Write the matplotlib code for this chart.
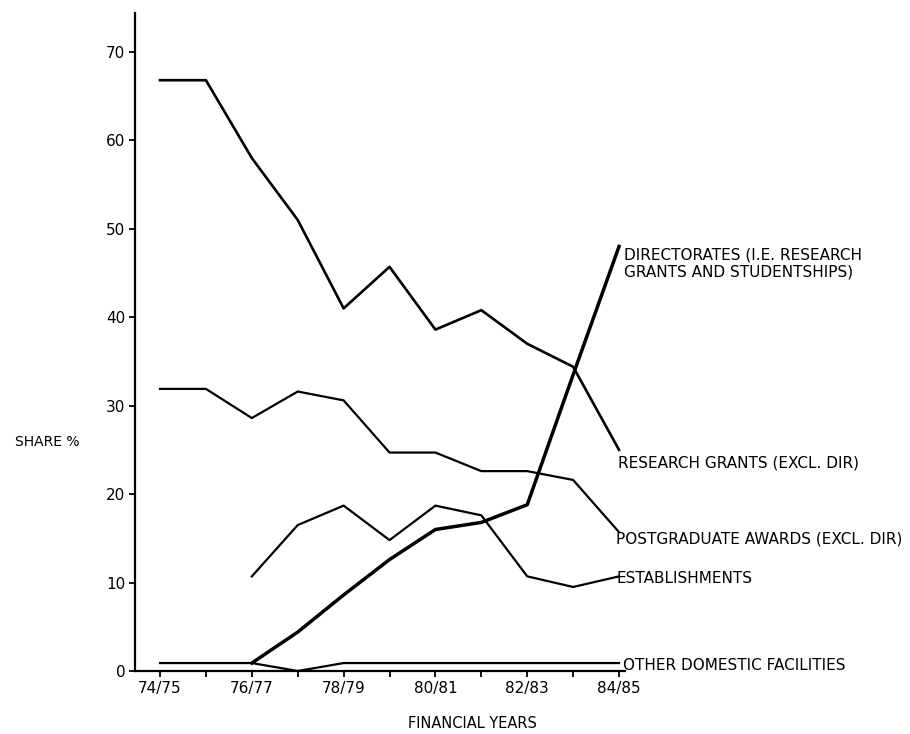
import numpy as np
import matplotlib
matplotlib.use("Agg")
import matplotlib.pyplot as plt

years = ["74/75", "75/76", "76/77", "77/78", "78/79", "79/80",
         "80/81", "81/82", "82/83", "83/84", "84/85"]
research_grants = [66.8, 66.8, 58, 51, 41, 45.7, 38.6, 40.8, 37, 34.4, 25]
postgraduate = [31.9, 31.9, 28.6, 31.6, 30.6, 24.7, 24.7, 22.6, 22.6, 21.6, 15.7]
establishments = [np.nan, np.nan, 10.7, 16.5, 18.7, 14.8, 18.7, 17.6, 10.7, 9.5, 10.7]
directorates = [np.nan, np.nan, 0.9, 4.4, 8.6, 12.6, 16.0, 16.8, 18.8, 33.5, 48]
other_domestic = [0.9, 0.9, 0.9, 0.0, 0.9, 0.9, 0.9, 0.9, 0.9, 0.9, 0.9]
yticks = [0, 10, 20, 30, 40, 50, 60, 70]

plt.rcParams['font.family'] = ['DejaVu Sans']

fig = plt.figure(figsize=(9.10, 7.34), dpi=100)
ax = fig.add_axes([135/910, 1 - 671/734, 490/910, 658/734])

x = np.arange(len(years))
ink = "black"
ax.plot(x, research_grants, color=ink, lw=1.9)
ax.plot(x, postgraduate, color=ink, lw=1.6)
ax.plot(x, establishments, color=ink, lw=1.6)
ax.plot(x, directorates, color=ink, lw=2.5)
ax.plot(x, other_domestic, color=ink, lw=1.6)

ax.set_xlim(-0.545, 10.13)
ax.set_ylim(0, 74.4)

for s in ["top", "right"]:
    ax.spines[s].set_visible(False)
for s in ["left", "bottom"]:
    ax.spines[s].set_linewidth(1.6)

ax.set_xticks(x)
ax.set_xticklabels([y if i % 2 == 0 else "" for i, y in enumerate(years)],
                   fontsize=11)
ax.set_yticks(yticks)
ax.set_yticklabels([str(v) for v in yticks], fontsize=11)
ax.tick_params(axis='both', direction='out', length=4, width=1.3, pad=3)

fs = 11
lab = dict(fontsize=fs, textcoords='offset pixels', ha='left')
ax.annotate("DIRECTORATES (I.E. RESEARCH\nGRANTS AND STUDENTSHIPS)",
            xy=(10, directorates[-1]), xytext=(5, -1), va='top',
            linespacing=1.2, **lab)
ax.annotate("RESEARCH GRANTS (EXCL. DIR)", xy=(10, research_grants[-1]),
            xytext=(-1, -13), va='center', **lab)
ax.annotate("POSTGRADUATE AWARDS (EXCL. DIR)", xy=(10, postgraduate[-1]),
            xytext=(-3, -7), va='center', **lab)
ax.annotate("ESTABLISHMENTS", xy=(10, establishments[-1]),
            xytext=(-3, -2), va='center', **lab)
ax.annotate("OTHER DOMESTIC FACILITIES", xy=(10, other_domestic[-1]),
            xytext=(4, -2), va='center', **lab)

ax.set_xlabel("FINANCIAL YEARS", fontsize=10.5, va='center')
ax.xaxis.set_label_coords(0.688, -0.08)
ax.set_ylabel("SHARE %", fontsize=10, rotation=0, va='center', ha='center')
ax.yaxis.set_label_coords(-0.18, 0.348)

fig.savefig("out.png", dpi=100)
